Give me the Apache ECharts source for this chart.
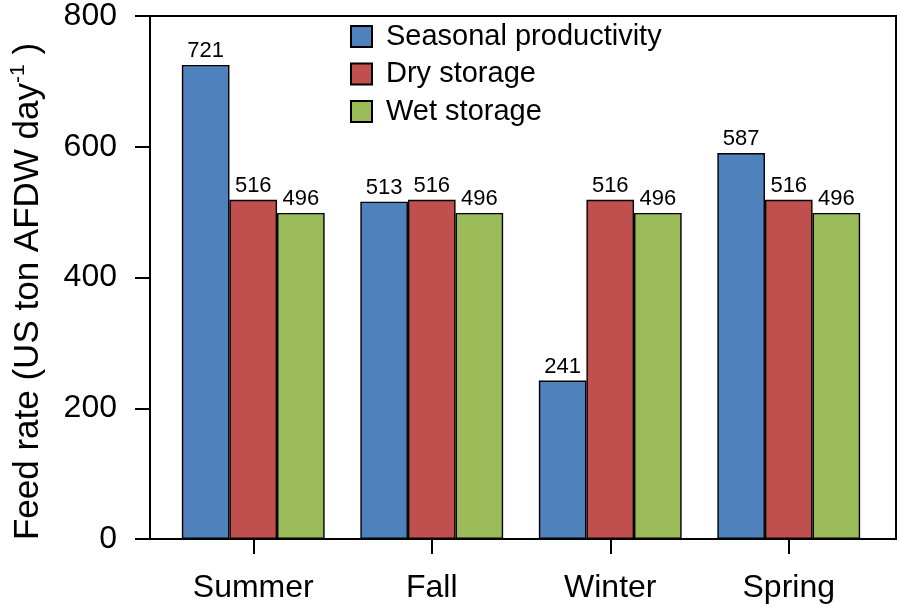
<!DOCTYPE html>
<html>
<head>
<meta charset="utf-8">
<script src="https://cdn.jsdelivr.net/npm/echarts@6/dist/echarts.min.js"></script>
<style>
html,body{margin:0;padding:0;background:#fff;}
#c{width:898px;height:608px;}
</style>
</head>
<body>
<div id="c"></div>
<script>
const categories = ['Summer', 'Fall', 'Winter', 'Spring'];
const seriesNames = ['Seasonal productivity', 'Dry storage', 'Wet storage'];
const seasonalProductivity = [721, 513, 241, 587];
const dryStorage = [516, 516, 516, 516];
const wetStorage = [496, 496, 496, 496];
const yTicks = [0, 200, 400, 600, 800];

const FONT = "'Liberation Sans', Arial, Helvetica, sans-serif";
const colors = ['#4f81bd', '#c0504d', '#9bbb59'];
const values = [seasonalProductivity, dryStorage, wetStorage];

const chart = echarts.init(document.getElementById('c'), null, {renderer: 'canvas'});

const option = {
  animation: false,
  backgroundColor: '#fff',
  textStyle: {fontFamily: FONT},
  legend: {
    orient: 'vertical',
    left: 345,
    top: 17,
    itemWidth: 21,
    itemHeight: 21,
    itemGap: 8.5,
    icon: 'rect',
    data: seriesNames,
    textStyle: {fontSize: 29, color: '#000', fontFamily: FONT, lineHeight: 29, padding: [0, 0, 0, 9]}
  },
  grid: [
    {left: 146, right: 2, top: 13, bottom: 69, show: true, borderColor: '#000', borderWidth: 2, backgroundColor: 'transparent'},
    {left: 164, right: 20, top: 13, bottom: 69}
  ],
  xAxis: [
    {gridIndex: 0, type: 'value', min: 0, max: 1, show: false},
    {
      gridIndex: 1, type: 'category', data: categories,
      axisLine: {show: false},
      axisTick: {show: true, alignWithLabel: true, length: 15, lineStyle: {color: '#000', width: 2}},
      axisLabel: {fontSize: 32, color: '#000', margin: 33, fontFamily: FONT}
    }
  ],
  yAxis: [
    {
      gridIndex: 0, type: 'value', min: yTicks[0], max: yTicks[yTicks.length - 1], interval: 200,
      splitLine: {show: false},
      axisLine: {show: true, lineStyle: {color: '#000', width: 2}},
      axisTick: {show: true, length: 15, lineStyle: {color: '#000', width: 2}},
      axisLabel: {fontSize: 32, color: '#000', margin: 33, fontFamily: FONT},
      name: '{a|Feed rate (US ton AFDW day}{s|-1}{a| )}',
      nameLocation: 'middle',
      nameGap: 102,
      nameTextStyle: {
        fontFamily: FONT,
        padding: [0, 28, 0, 0],
        rich: {
          a: {fontSize: 35, color: '#000', fontFamily: FONT, lineHeight: 40},
          s: {fontSize: 21, color: '#000', fontFamily: FONT, verticalAlign: 'top', lineHeight: 40}
        }
      }
    },
    {gridIndex: 1, type: 'value', min: 0, max: 800, show: false}
  ],
  series: seriesNames.map((name, i) => ({
    name: name,
    type: 'bar',
    xAxisIndex: 1,
    yAxisIndex: 1,
    data: values[i],
    barGap: '0%',
    barCategoryGap: '20%',
    itemStyle: {color: colors[i], borderColor: '#000', borderWidth: 1.4},
    label: {show: true, position: 'top', distance: 3, fontSize: 22, color: '#000', fontFamily: FONT}
  }))
};
chart.setOption(option);
</script>
</body>
</html>
